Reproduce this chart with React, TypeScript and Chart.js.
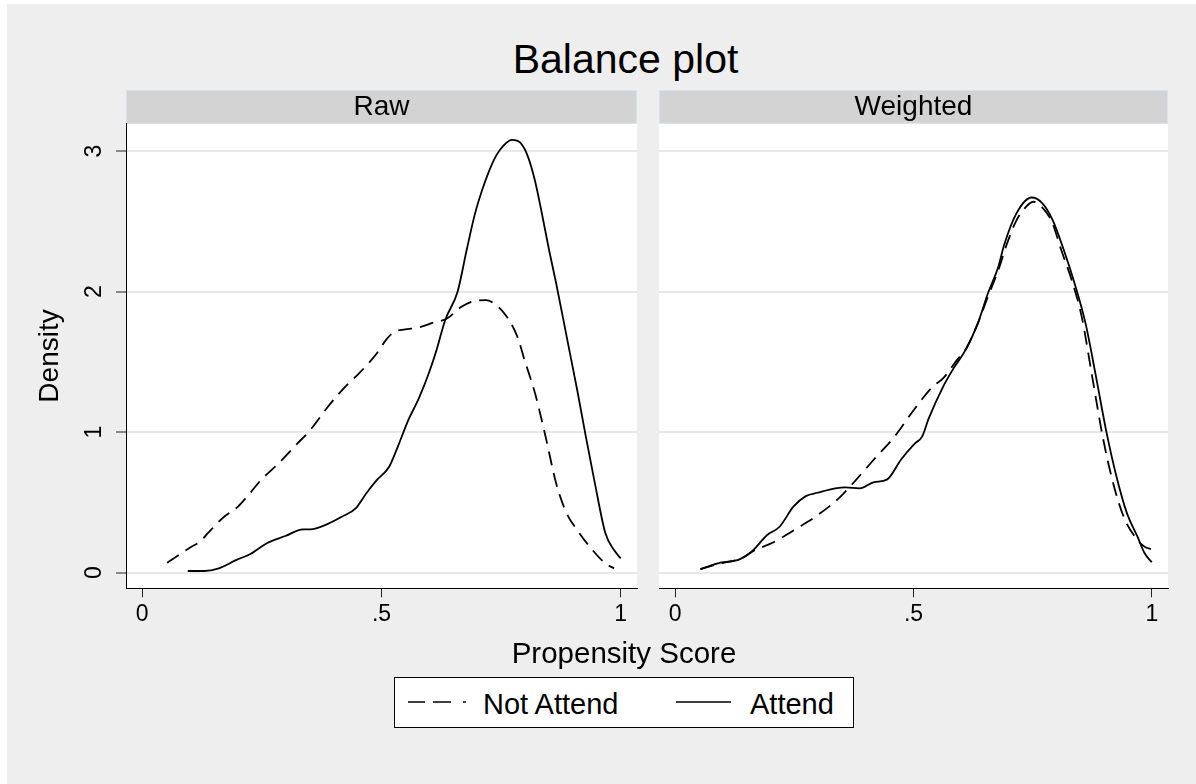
import React, { useEffect, useRef } from "react";
import { Chart, registerables } from "chart.js";

Chart.register(...registerables);

const FONT = "'Liberation Sans', Arial, Helvetica, sans-serif";
Chart.defaults.font.family = FONT;

// ---------- text ----------
const MAIN_TITLE = "Balance plot";
const PANEL_TITLES = ["Raw", "Weighted"];
const X_TITLE = "Propensity Score";
const Y_TITLE = "Density";
const SERIES_NAMES = ["Not Attend", "Attend"];

// ---------- axes ----------
const X_MIN = -0.034;
const X_MAX = 1.034;
const Y_MIN = -0.111;
const Y_MAX = 3.196;
const X_TICKS = [0, 0.5, 1];
const X_TICK_LABELS = ["0", ".5", "1"];
const Y_TICKS = [0, 1, 2, 3];
const Y_TICK_LABELS = ["0", "1", "2", "3"];

// ---------- data: Raw panel ----------
const RAW_NOT_X = [0.052, 0.097, 0.123, 0.138, 0.171, 0.2, 0.219, 0.248, 0.285, 0.321, 0.351, 0.388, 0.424, 0.453, 0.49, 0.512, 0.527, 0.549, 0.578, 0.608, 0.637, 0.667, 0.696, 0.718, 0.74, 0.762, 0.784, 0.799, 0.821, 0.843, 0.865, 0.887, 0.909, 0.938, 0.968, 0.986];
const RAW_NOT_Y = [0.071, 0.173, 0.228, 0.285, 0.398, 0.47, 0.541, 0.659, 0.778, 0.908, 1.015, 1.181, 1.323, 1.418, 1.56, 1.667, 1.714, 1.731, 1.745, 1.779, 1.809, 1.892, 1.935, 1.94, 1.904, 1.821, 1.679, 1.513, 1.276, 0.967, 0.636, 0.422, 0.304, 0.173, 0.066, 0.031];

const RAW_ATT_X = [0.095, 0.13, 0.16, 0.196, 0.226, 0.262, 0.299, 0.336, 0.351, 0.387, 0.417, 0.446, 0.468, 0.49, 0.516, 0.534, 0.556, 0.578, 0.6, 0.615, 0.633, 0.659, 0.678, 0.695, 0.71, 0.725, 0.74, 0.755, 0.773, 0.79, 0.805, 0.82, 0.835, 0.85, 0.865, 0.887, 0.909, 0.927, 0.946, 0.968, 0.986, 1.0];
const RAW_ATT_Y = [0.012, 0.012, 0.031, 0.09, 0.133, 0.213, 0.261, 0.308, 0.308, 0.346, 0.398, 0.458, 0.564, 0.659, 0.754, 0.896, 1.086, 1.24, 1.43, 1.584, 1.797, 2.0, 2.296, 2.55, 2.72, 2.86, 2.97, 3.04, 3.08, 3.06, 2.97, 2.8, 2.56, 2.3, 2.06, 1.68, 1.3, 0.97, 0.636, 0.28, 0.161, 0.102];

// ---------- data: Weighted panel ----------
const W_NOT_X = [0.053, 0.095, 0.139, 0.168, 0.204, 0.255, 0.299, 0.343, 0.379, 0.416, 0.46, 0.503, 0.54, 0.562, 0.591, 0.613, 0.635, 0.656, 0.678, 0.695, 0.715, 0.735, 0.752, 0.77, 0.79, 0.81, 0.832, 0.853, 0.875, 0.897, 0.919, 0.941, 0.97, 0.985, 1.0];
const W_NOT_Y = [0.026, 0.066, 0.102, 0.161, 0.213, 0.315, 0.41, 0.529, 0.659, 0.802, 0.968, 1.169, 1.323, 1.383, 1.513, 1.608, 1.774, 1.963, 2.153, 2.33, 2.5, 2.6, 2.64, 2.6, 2.5, 2.296, 2.082, 1.821, 1.394, 0.968, 0.636, 0.398, 0.232, 0.185, 0.166];

const W_ATT_X = [0.053, 0.095, 0.135, 0.16, 0.193, 0.219, 0.248, 0.274, 0.299, 0.336, 0.357, 0.387, 0.416, 0.445, 0.474, 0.503, 0.518, 0.532, 0.562, 0.584, 0.609, 0.635, 0.656, 0.678, 0.69, 0.716, 0.748, 0.77, 0.792, 0.815, 0.837, 0.861, 0.883, 0.904, 0.926, 0.948, 0.97, 0.985, 1.0];
const W_ATT_Y = [0.026, 0.071, 0.095, 0.149, 0.268, 0.327, 0.47, 0.545, 0.569, 0.6, 0.607, 0.6, 0.643, 0.664, 0.806, 0.92, 0.968, 1.098, 1.323, 1.454, 1.584, 1.774, 1.987, 2.177, 2.33, 2.557, 2.67, 2.63, 2.509, 2.3, 2.07, 1.774, 1.394, 1.015, 0.683, 0.422, 0.256, 0.138, 0.074];

function toPoints(xs: number[], ys: number[]) {
  return xs.map((x, i) => ({ x, y: ys[i] }));
}

const panelPlugin = {
  id: "panelBackground",
  beforeDraw(chart: any) {
    const { ctx, chartArea } = chart;
    ctx.save();
    ctx.fillStyle = "#ffffff";
    ctx.fillRect(chartArea.left, chartArea.top, chartArea.right - chartArea.left, chartArea.bottom - chartArea.top);
    const tb = chart.titleBlock;
    if (tb) {
      ctx.fillStyle = "#d3d3d3";
      ctx.fillRect(tb.left, tb.top, tb.width, tb.height);
      ctx.strokeStyle = "#d8e2e8";
      ctx.lineWidth = 1;
      ctx.strokeRect(tb.left + 0.5, tb.top + 0.5, tb.width - 1, tb.height - 1);
    }
    ctx.restore();
  },
};

function makeConfig(isLeft: boolean): any {
  const notX = isLeft ? RAW_NOT_X : W_NOT_X;
  const notY = isLeft ? RAW_NOT_Y : W_NOT_Y;
  const attX = isLeft ? RAW_ATT_X : W_ATT_X;
  const attY = isLeft ? RAW_ATT_Y : W_ATT_Y;
  return {
    type: "line",
    data: {
      datasets: [
        {
          label: SERIES_NAMES[0],
          data: toPoints(notX, notY),
          borderColor: "#000000",
          borderWidth: 1.8,
          borderDash: [14, 8],
          pointRadius: 0,
          fill: false,
          cubicInterpolationMode: "monotone",
        },
        {
          label: SERIES_NAMES[1],
          data: toPoints(attX, attY),
          borderColor: "#000000",
          borderWidth: 1.8,
          pointRadius: 0,
          fill: false,
          cubicInterpolationMode: "monotone",
        },
      ],
    },
    options: {
      responsive: false,
      animation: false,
      devicePixelRatio: 1,
      events: [],
      layout: {
        padding: { left: isLeft ? 0 : 11, right: isLeft ? 11 : 28, top: 86, bottom: 135.7 },
      },
      plugins: {
        legend: { display: false },
        tooltip: { enabled: false },
        title: {
          display: true,
          text: isLeft ? PANEL_TITLES[0] : PANEL_TITLES[1],
          fullSize: false,
          padding: 0,
          color: "#000000",
          font: { size: 28, weight: "normal", lineHeight: 1.2, family: FONT },
        },
      },
      scales: {
        x: {
          type: "linear",
          min: X_MIN,
          max: X_MAX,
          afterBuildTicks: (s: any) => {
            s.ticks = X_TICKS.map((v) => ({ value: v }));
          },
          afterFit: (s: any) => {
            s.height = 60;
          },
          ticks: {
            autoSkip: false,
            maxRotation: 0,
            callback: (_v: any, i: number) => X_TICK_LABELS[i],
            color: "#000000",
            font: { size: 23, family: FONT },
            padding: 4,
          },
          grid: { drawOnChartArea: false, drawTicks: true, tickLength: 9, tickColor: "#222222", tickWidth: 1 },
          border: { display: true, color: "#000000", width: 1 },
        },
        y: {
          type: "linear",
          min: Y_MIN,
          max: Y_MAX,
          afterBuildTicks: (s: any) => {
            s.ticks = Y_TICKS.map((v) => ({ value: v }));
          },
          afterFit: (s: any) => {
            s.width = isLeft ? 119 : 0;
          },
          title: {
            display: isLeft,
            text: Y_TITLE,
            color: "#000000",
            font: { size: 28, lineHeight: 1.2, family: FONT },
            padding: { top: 26, bottom: 0 },
          },
          ticks: {
            display: isLeft,
            autoSkip: false,
            minRotation: 90,
            maxRotation: 90,
            crossAlign: "center",
            callback: (_v: any, i: number) => Y_TICK_LABELS[i],
            color: "#000000",
            font: { size: 23, family: FONT },
            padding: 15,
          },
          grid: { color: "#e8e8e8", lineWidth: 2, drawTicks: isLeft, tickLength: 10, tickColor: "#222222", tickWidth: 1 },
          border: { display: isLeft, color: "#000000", width: 1 },
        },
      },
    },
    plugins: [panelPlugin],
  };
}

function Panel({ isLeft, left, width }: { isLeft: boolean; left: number; width: number }) {
  const ref = useRef<HTMLCanvasElement | null>(null);
  useEffect(() => {
    if (!ref.current) return;
    const chart = new Chart(ref.current, makeConfig(isLeft));
    return () => chart.destroy();
  }, [isLeft]);
  return (
    <canvas
      ref={ref}
      width={width}
      height={780}
      style={{ position: "absolute", left, top: 0, width, height: 780, display: "block" }}
    />
  );
}

export default function App() {
  return (
    <div
      style={{
        position: "absolute",
        left: 7,
        top: 4,
        width: 1189,
        height: 780,
        background: "#eeeeee",
        fontFamily: FONT,
        color: "#000",
        overflow: "hidden",
      }}
    >
      <div
        style={{
          position: "absolute",
          left: 618.5,
          top: 35,
          transform: "translateX(-50%)",
          fontSize: 41,
          lineHeight: "41px",
          whiteSpace: "nowrap",
        }}
      >
        {MAIN_TITLE}
      </div>
      <Panel isLeft={true} left={0} width={641} />
      <Panel isLeft={false} left={641} width={548} />
      <div
        style={{
          position: "absolute",
          left: 617,
          top: 633.6,
          transform: "translateX(-50%)",
          fontSize: 29.5,
          lineHeight: "29.5px",
          whiteSpace: "nowrap",
        }}
      >
        {X_TITLE}
      </div>
      <div
        style={{
          position: "absolute",
          left: 387,
          top: 672.5,
          width: 460,
          height: 51,
          boxSizing: "border-box",
          border: "1.5px solid #000",
          background: "#ffffff",
        }}
      />
      <svg
        width={60}
        height={16}
        style={{ position: "absolute", left: 401, top: 690.3 }}
      >
        <line x1={0} y1={8} x2={58} y2={8} stroke="#000" strokeWidth={1.7} strokeDasharray="17 8 18 12 3 100" />
      </svg>
      <div
        style={{
          position: "absolute",
          left: 476,
          top: 685.5,
          fontSize: 29,
          lineHeight: "29px",
          whiteSpace: "nowrap",
        }}
      >
        {SERIES_NAMES[0]}
      </div>
      <svg
        width={60}
        height={16}
        style={{ position: "absolute", left: 669, top: 690 }}
      >
        <line x1={0} y1={8} x2={55} y2={8} stroke="#000" strokeWidth={1.7} />
      </svg>
      <div
        style={{
          position: "absolute",
          left: 743,
          top: 685.5,
          fontSize: 29,
          lineHeight: "29px",
          whiteSpace: "nowrap",
        }}
      >
        {SERIES_NAMES[1]}
      </div>
    </div>
  );
}
